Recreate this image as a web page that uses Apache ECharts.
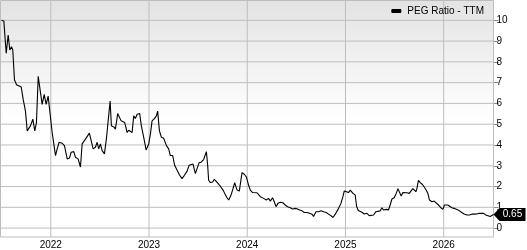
<!DOCTYPE html>
<html>
<head>
<meta charset="utf-8">
<script src="https://cdn.jsdelivr.net/npm/echarts@6/dist/echarts.min.js"></script>
<style>
html,body{margin:0;padding:0;background:#fff;}
#wrap{position:relative;width:527px;height:250px;}
#plotbg{position:absolute;left:0;top:0;width:0;height:0;z-index:0;
  background:linear-gradient(to bottom,#e3e3e3 0%,#ffffff 50%,#ffffff 100%);}
#chart{position:absolute;left:0;top:0;width:527px;height:250px;z-index:1;}
</style>
</head>
<body>
<div id="wrap"><div id="plotbg"></div><div id="chart"></div></div>
<script>
// Time as fractional year
const yearFrac = [2021.498,2021.522,2021.546,2021.566,2021.583,2021.600,2021.613,2021.630,2021.651,2021.668,2021.699,2021.719,2021.742,2021.760,2021.793,2021.817,2021.837,2021.854,2021.872,2021.892,2021.912,2021.933,2021.953,2021.973,2021.990,
2022.014,2022.048,2022.065,2022.085,2022.116,2022.139,2022.167,2022.190,2022.207,2022.234,2022.251,2022.278,2022.302,2022.319,2022.343,2022.360,2022.393,2022.411,2022.431,2022.454,2022.472,2022.488,2022.505,2022.523,2022.546,2022.566,2022.584,2022.604,2022.617,2022.641,2022.658,2022.681,2022.699,2022.716,2022.736,2022.753,2022.777,2022.793,2022.811,2022.828,2022.844,2022.861,2022.879,2022.905,2022.922,2022.946,2022.970,2022.997,
2023.014,2023.031,2023.055,2023.075,2023.088,2023.106,2023.126,2023.149,2023.177,2023.200,2023.217,2023.241,2023.261,2023.286,2023.309,2023.336,2023.360,2023.387,2023.408,2023.428,2023.448,2023.472,2023.489,2023.509,2023.530,2023.556,2023.584,2023.597,2023.607,2023.624,2023.648,2023.665,2023.685,2023.703,2023.719,2023.736,2023.754,2023.770,2023.794,2023.811,2023.835,2023.855,2023.872,2023.896,2023.919,2023.947,2023.970,2023.991,
2024.014,2024.031,2024.055,2024.075,2024.099,2024.116,2024.133,2024.150,2024.167,2024.194,2024.217,2024.235,2024.258,2024.275,2024.293,2024.313,2024.336,2024.364,2024.387,2024.411,2024.438,2024.462,2024.489,2024.512,2024.533,2024.557,2024.581,2024.608,2024.635,2024.659,2024.675,2024.700,2024.726,2024.751,2024.777,2024.804,2024.828,2024.852,2024.873,2024.896,2024.913,2024.930,2024.954,2024.974,2024.988,
2025.008,2025.031,2025.049,2025.076,2025.099,2025.113,2025.130,2025.143,2025.168,2025.191,2025.218,2025.242,2025.262,2025.286,2025.310,2025.330,2025.354,2025.371,2025.387,2025.415,2025.438,2025.455,2025.473,2025.496,2025.517,2025.534,2025.550,2025.567,2025.585,2025.601,2025.625,2025.649,2025.666,2025.686,2025.703,2025.717,2025.727,2025.743,2025.761,2025.784,2025.801,2025.822,2025.839,2025.855,2025.880,2025.903,2025.923,2025.947,2025.971,2025.992,
2026.008,2026.025,2026.042,2026.059,2026.083,2026.107,2026.134,2026.160,2026.185,2026.208,2026.236,2026.262,2026.287,2026.310,2026.337,2026.361,2026.381,2026.405,2026.429,2026.449,2026.473,2026.490,2026.507];

const pegRatio = [10.0,9.97,8.41,9.29,8.57,8.73,8.57,7.14,6.9,6.98,6.79,6.19,5.63,4.68,4.92,5.24,4.68,5.08,7.3,7.22,5.95,6.43,5.95,6.35,6.35,
4.6,3.49,3.81,4.13,4.08,3.97,3.33,3.37,3.65,3.68,3.41,3.33,2.94,4.05,4.21,4.13,4.57,4.48,3.81,3.89,4.13,3.81,4.05,3.73,3.57,4.29,5.16,6.11,4.92,4.87,4.76,5.51,5.44,5.16,5.21,5.08,4.6,4.71,4.68,4.6,5.4,5.27,5.48,5.51,4.92,4.37,3.76,4.05,
4.52,5.16,5.27,5.4,5.63,4.68,4.37,4.32,3.97,3.81,3.49,3.49,3.02,2.78,2.57,2.38,2.54,2.73,3.02,2.94,3.08,2.62,2.86,3.14,3.17,3.3,3.68,3.02,2.3,2.19,2.22,2.35,2.25,2.22,2.06,1.98,1.83,1.67,1.46,1.35,1.59,1.9,2.19,1.83,1.78,2.67,2.59,2.46,
2.06,1.83,1.71,1.7,1.7,1.7,1.51,1.59,1.43,1.35,1.43,1.3,1.46,1.27,1.03,1.19,1.24,1.22,1.11,1.03,0.98,0.92,0.95,0.92,0.87,0.83,0.75,0.75,0.71,0.67,0.56,0.79,0.79,0.84,0.79,0.75,0.67,0.6,0.51,0.67,0.76,0.95,1.19,1.51,1.79,
1.75,1.71,1.83,1.67,1.59,1.05,0.85,0.79,0.76,0.68,0.71,0.6,0.56,0.63,0.79,0.76,0.83,0.98,0.87,0.9,0.87,1.11,1.4,1.46,1.67,1.9,1.94,1.54,1.71,1.78,1.7,1.67,1.62,1.9,1.98,1.75,1.9,2.3,2.19,2.1,1.98,1.83,1.67,1.35,1.27,1.3,1.22,1.11,0.98,0.9,
1.11,1.19,1.11,1.03,0.98,0.95,0.9,0.83,0.75,0.68,0.63,0.63,0.67,0.67,0.68,0.71,0.76,0.71,0.63,0.59,0.56,0.6,0.65];

const yearTicks = [2022, 2023, 2024, 2025, 2026];
const valueTicks = [0, 1, 2, 3, 4, 5, 6, 7, 8, 9, 10];
const seriesName = 'PEG Ratio - TTM';
const lastLabel = '0.65';

const X_MIN = 2021.488, X_MAX = 2026.507, Y_MIN = -0.4286, Y_MAX = 10.952;

const chart = echarts.init(document.getElementById('chart'), null, {renderer: 'canvas'});
const data = yearFrac.map((t, i) => [t, pegRatio[i]]);
const FONT = '"Liberation Sans", Arial, Helvetica, sans-serif';
const GRID_COLOR = '#bdbdbd';

function ruleSeries(name, points) {
  return {
    name: name,
    type: 'line', silent: true, z: 1, symbol: 'none', showSymbol: false,
    clip: false,
    data: points, animation: false,
    lineStyle: {color: GRID_COLOR, width: 1, opacity: 1},
    itemStyle: {color: GRID_COLOR}
  };
}
const gridSeries = []
  .concat(valueTicks.map(v => ruleSeries('h' + v, [[X_MIN, v], [X_MAX, v]])))
  .concat(yearTicks.map(y => ruleSeries('v' + y, [[y, Y_MIN], [y, Y_MAX]])))
  .concat([
    ruleSeries('bBottom', [[X_MIN, Y_MIN], [X_MAX, Y_MIN]]),
    ruleSeries('bTop', [[X_MIN, Y_MAX], [X_MAX, Y_MAX]]),
    ruleSeries('bLeft', [[X_MIN, Y_MIN], [X_MIN, Y_MAX]]),
    ruleSeries('bRight', [[X_MAX, Y_MIN], [X_MAX, Y_MAX]])
  ]);

chart.setOption({
  animation: false,
  backgroundColor: 'transparent',
  textStyle: {fontFamily: FONT},
  grid: {left: 0.5, right: 33.5, top: 0.5, bottom: 10.5, show: false},
  legend: {
    show: true,
    right: 43, top: 6, padding: 0,
    itemWidth: 10, itemHeight: 4, itemGap: 6,
    icon: 'roundRect',
    textStyle: {fontSize: 10, color: '#000', fontFamily: FONT, padding: [0, 0, 0, 1]},
    data: [{name: seriesName, itemStyle: {color: '#000'}}]
  },
  xAxis: {
    type: 'value',
    min: X_MIN, max: X_MAX,
    axisLine: {show: false},
    axisTick: {show: false, customValues: yearTicks},
    axisLabel: {customValues: yearTicks, fontSize: 10, color: '#000', margin: 3,
      formatter: v => String(Math.round(v))},
    splitLine: {show: false}
  },
  yAxis: {
    type: 'value',
    position: 'right',
    min: Y_MIN, max: Y_MAX,
    axisLine: {show: false},
    axisTick: {show: true, customValues: valueTicks, length: 5, lineStyle: {color: '#888'}},
    axisLabel: {customValues: valueTicks, fontSize: 10, color: '#000', margin: 3},
    splitLine: {show: false}
  },
  series: gridSeries.concat([{
    name: seriesName,
    type: 'line',
    z: 3,
    data: data,
    showSymbol: false,
    symbol: 'none',
    lineStyle: {color: '#000', width: 1.1},
    itemStyle: {color: '#000'},
    markPoint: {
      symbol: 'path://M0,6 L6,0 L32,0 L32,12 L6,12 Z',
      symbolSize: [32, 13],
      symbolOffset: ['50%', 0],
      itemStyle: {color: '#000'},
      label: {show: true, color: '#fff', fontSize: 10, fontFamily: FONT, offset: [3, 0],
        formatter: () => lastLabel},
      data: [{coord: data[data.length - 1]}]
    }
  }])
});

// plot-area background gradient sits under the (transparent) chart canvas,
// placed from the axis scales
const tl = chart.convertToPixel({gridIndex: 0}, [X_MIN, Y_MAX]);
const br = chart.convertToPixel({gridIndex: 0}, [X_MAX, Y_MIN]);
const bg = document.getElementById('plotbg');
bg.style.left = tl[0] + 'px';
bg.style.top = tl[1] + 'px';
bg.style.width = (br[0] - tl[0]) + 'px';
bg.style.height = (br[1] - tl[1]) + 'px';
</script>
</body>
</html>
